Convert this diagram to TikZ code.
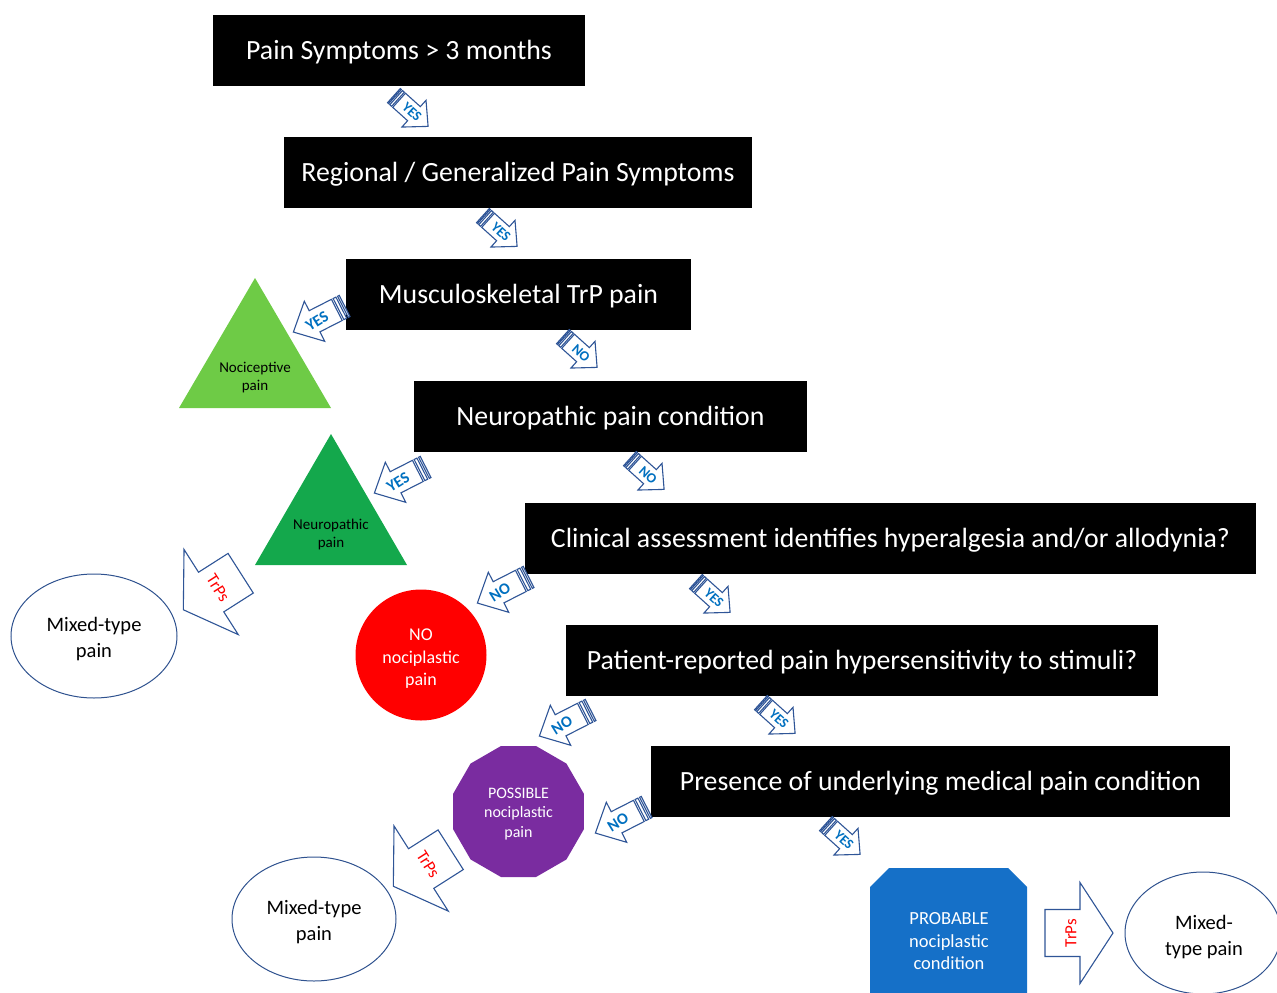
\documentclass[tikz,border=0pt]{standalone}
\usepackage{fontspec}
\setmainfont{Carlito}
\usetikzlibrary{shapes.geometric}
\definecolor{arrowblue}{RGB}{47,85,151}
\definecolor{textblue}{RGB}{0,112,192}
\definecolor{lgreen}{RGB}{110,203,70}
\definecolor{dgreen}{RGB}{20,168,76}
\definecolor{npurple}{RGB}{122,44,160}
\definecolor{pblue}{RGB}{21,112,200}
\definecolor{ellline}{RGB}{47,82,143}
\tikzset{
  qbox/.style={fill=black, text=white, font=\fontsize{27.8}{32}\selectfont, minimum height=71pt, inner sep=0pt, text height=22pt, text depth=4pt},
  arrowline/.style={draw=arrowblue, fill=white, line width=1.1pt, line join=miter},
  yesno/.style={text=textblue, font=\bfseries\fontsize{14}{14}\selectfont, inner sep=0pt},
  yesnobig/.style={text=textblue, font=\bfseries\fontsize{16}{16}\selectfont, inner sep=0pt},
  trps/.style={text=red, font=\fontsize{17}{17}\selectfont, inner sep=0pt},
  outcome/.style={draw=ellline, fill=white, line width=1pt, ellipse, inner sep=0pt},
  outcometext/.style={align=center, text=black, font=\fontsize{20.5}{26}\selectfont, inner sep=0pt},
  tritext/.style={align=center, text=black, font=\fontsize{15}{18}\selectfont, inner sep=0pt},
  whitetext/.style={align=center, text=white, inner sep=0pt},
  stripedarrow/.pic={
    \path[arrowline] (-23pt,-9.5pt) rectangle (-21.5pt,9.5pt);
    \path[arrowline] (-20pt,-9.5pt) rectangle (-17.5pt,9.5pt);
    \path[arrowline] (-16pt,-9.5pt) -- (4pt,-9.5pt) -- (4pt,-18pt) -- (23pt,0pt) -- (4pt,18pt) -- (4pt,9.5pt) -- (-16pt,9.5pt) -- cycle;
  },
  blockarrow/.pic={
    \path[arrowline] (-34pt,-23.5pt) -- (1pt,-23.5pt) -- (1pt,-50.5pt) -- (34pt,0pt) -- (1pt,50.5pt) -- (1pt,23.5pt) -- (-34pt,23.5pt) -- cycle;
  }
}
\begin{document}
\begin{tikzpicture}[x=1pt,y=-1pt]
\path[use as bounding box] (0,0) rectangle (1277,993);
\clip (0,0) rectangle (1277,993);

% question boxes
\node[qbox, minimum width=372pt] (q1) at (399,50.5) {Pain Symptoms > 3 months};
\node[qbox, minimum width=468pt] (q2) at (518,172.5) {Regional / Generalized Pain Symptoms};
\node[qbox, minimum width=345pt] (q3) at (518.5,294.5) {Musculoskeletal TrP pain};
\node[qbox, minimum width=393pt] (q4) at (610.5,416) {Neuropathic pain condition};
\node[qbox, minimum width=731pt] (q5) at (890.5,538) {Clinical assessment identifies hyperalgesia and/or allodynia?};
\node[qbox, minimum width=592pt] (q6) at (862,660) {Patient-reported pain hypersensitivity to stimuli?};
\node[qbox, minimum width=579pt] (q7) at (940.5,781) {Presence of underlying medical pain condition};

% triangles
\fill[lgreen] (255,278) -- (331,408) -- (179,408) -- cycle;
\node[tritext] (noci) at (255,378) {Nociceptive\\pain};
\fill[dgreen] (331,434) -- (407,565) -- (255,565) -- cycle;
\node[tritext] (neuro) at (331,534) {Neuropathic\\pain};

% red circle
\node[circle, fill=red, minimum size=131pt, inner sep=0pt] (nonoci) at (421,655) {};
\node[whitetext, font=\fontsize{18}{22.5}\selectfont] (nonocitext) at (421,659) {NO\\nociplastic\\pain};

% purple dodecagon
\node[regular polygon, regular polygon sides=12, fill=npurple, minimum size=135.6pt, inner sep=0pt] (possible) at (518.5,811.5) {};
\node[whitetext, font=\fontsize{16}{19.5}\selectfont] (possibletext) at (518.5,814) {POSSIBLE\\nociplastic\\pain};

% blue snipped rectangle
\fill[pblue] (870,1013) -- (870,887) -- (889,868) -- (1008,868) -- (1027,887) -- (1027,1013) -- cycle;
\node[whitetext, font=\fontsize{18.5}{22.5}\selectfont] (probable) at (949,941.5) {PROBABLE\\nociplastic\\condition};

% ellipses
\node[outcome, minimum width=166pt, minimum height=124pt] (mixed1) at (94,636) {};
\node[outcometext] (mixed1text) at (94,639) {Mixed-type\\pain};
\node[outcome, minimum width=164pt, minimum height=124pt] (mixed2) at (314,919) {};
\node[outcometext] (mixed2text) at (314,922) {Mixed-type\\pain};
\node[outcome, minimum width=156pt, minimum height=122pt] (mixed3) at (1203,933) {};
\node[outcometext] (mixed3text) at (1204,937) {Mixed-\\type pain};

% TrPs block arrows
\pic[rotate=-147.5] at (212,591.5) {blockarrow};
\node[trps, rotate=-57.5] (trps1) at (218,588) {TrPs};
\pic[rotate=-147.5] at (422,868) {blockarrow};
\node[trps, rotate=-57.5] (trps2) at (428,864.5) {TrPs};
\pic at (1079,933) {blockarrow};
\node[trps, rotate=90] (trps3) at (1071,933) {TrPs};

% striped arrows pointing down-right
\pic[rotate=-42] at (411,111) {stripedarrow};
\node[yesno, rotate=-42] (y1) at (412,112) {YES};
\pic[rotate=-42] at (500,231) {stripedarrow};
\node[yesno, rotate=-42] (y2) at (501,232) {YES};
\pic[rotate=-42] at (580,352) {stripedarrow};
\node[yesno, rotate=-42] (n1) at (581,353) {NO};
\pic[rotate=-42] at (647,474) {stripedarrow};
\node[yesno, rotate=-42] (n2) at (648,475) {NO};
\pic[rotate=-42] at (713,597) {stripedarrow};
\node[yesno, rotate=-42] (y3) at (714,598) {YES};
\pic[rotate=-42] at (778,718) {stripedarrow};
\node[yesno, rotate=-42] (y4) at (779,719) {YES};
\pic[rotate=-42] at (843,839) {stripedarrow};
\node[yesno, rotate=-42] (y5) at (844,840) {YES};

% striped arrows pointing down-left
\pic[rotate=207, scale=1.25] at (319,319) {stripedarrow};
\node[yesnobig, rotate=32] (y6) at (317,321) {YES};
\pic[rotate=207, scale=1.25] at (400,480) {stripedarrow};
\node[yesnobig, rotate=32] (y7) at (398,482) {YES};
\pic[rotate=207, scale=1.25] at (503,590) {stripedarrow};
\node[yesnobig, rotate=32] (n3) at (500,592) {NO};
\pic[rotate=207, scale=1.25] at (565,723) {stripedarrow};
\node[yesnobig, rotate=32] (n4) at (562,725) {NO};
\pic[rotate=207, scale=1.25] at (621,820) {stripedarrow};
\node[yesnobig, rotate=32] (n5) at (618,822) {NO};
\end{tikzpicture}
\end{document}
